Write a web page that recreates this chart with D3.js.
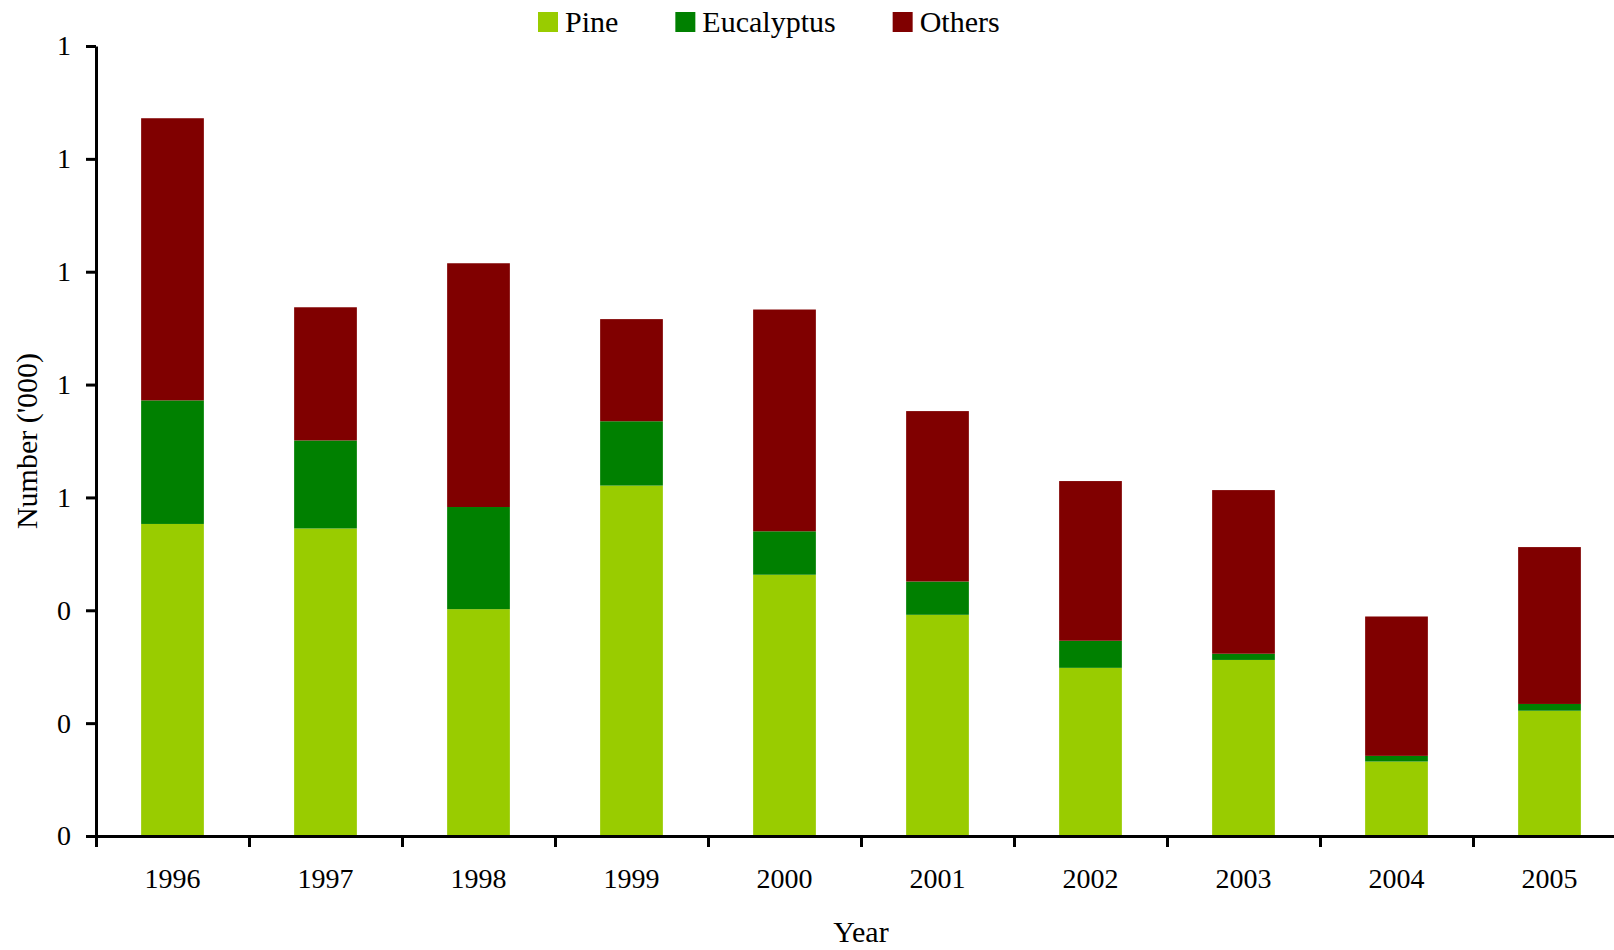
<!DOCTYPE html>
<html>
<head>
<meta charset="utf-8">
<script src="https://cdn.jsdelivr.net/npm/d3@7"></script>
<style>
  body { margin: 0; background: #fff; }
  svg text { font-family: "Liberation Serif", "Times New Roman", serif; fill: #000; }
</style>
</head>
<body>
<div id="chart"></div>
<script>
// data (thousands)
let years = ["1996", "1997", "1998", "1999", "2000", "2001", "2002", "2003", "2004", "2005"];
let pine = [0.553, 0.545, 0.402, 0.621, 0.463, 0.392, 0.298, 0.312, 0.132, 0.222];
let eucalyptus = [0.219, 0.156, 0.181, 0.114, 0.077, 0.059, 0.048, 0.011, 0.010, 0.012];
let others = [0.500, 0.236, 0.432, 0.181, 0.393, 0.302, 0.283, 0.290, 0.247, 0.278];
let seriesNames = ["Pine", "Eucalyptus", "Others"];
let seriesColors = ["#99cc00", "#008000", "#800000"];
let yTicks = [0, 0.2, 0.4, 0.6, 0.8, 1.0, 1.2, 1.4];

let width = 1614, height = 950;
let margin = {top: 46, left: 96, bottom: 114};
let step = 153;
let plotRight = margin.left + step * years.length;
let plotBottom = height - margin.bottom;

let svg = d3.select("#chart")
    .append("svg")
    .attr("width", width)
    .attr("height", height);

let rows = years.map(function(y, i) {
    return {year: y, Pine: pine[i], Eucalyptus: eucalyptus[i], Others: others[i]};
});
let stacked = d3.stack().keys(seriesNames)(rows);

let x = d3.scaleBand().domain(years).range([margin.left, plotRight]).padding(0);
let xEdge = d3.scaleLinear().domain([0, years.length]).range([margin.left, plotRight]);
let y = d3.scaleLinear().domain([0, 1.4]).range([plotBottom, margin.top]);
let color = d3.scaleOrdinal().domain(seriesNames).range(seriesColors);

let barW = x.bandwidth() * 0.41;

// bars
svg.append("g").selectAll("g")
    .data(stacked)
    .enter().append("g")
    .attr("fill", function(d) { return color(d.key); })
    .selectAll("rect")
    .data(function(d) { return d; })
    .enter().append("rect")
    .attr("x", function(d) { return x(d.data.year) + (x.bandwidth() - barW) / 2; })
    .attr("width", barW)
    .attr("y", function(d) { return y(d[1]); })
    .attr("height", function(d) { return y(d[0]) - y(d[1]); });

// y axis
let yAxis = svg.append("g")
    .attr("transform", "translate(" + margin.left + ",0)")
    .call(d3.axisLeft(y).tickValues(yTicks).tickFormat(d3.format(".0f"))
        .tickSizeInner(10).tickSizeOuter(0).tickPadding(15));
yAxis.selectAll("text").style("font-size", "28px");

// x axis: tick marks at category edges, labels in the middle
let xTicks = svg.append("g")
    .attr("transform", "translate(0," + plotBottom + ")")
    .call(d3.axisBottom(xEdge).tickValues(d3.range(years.length + 1)).tickFormat("")
        .tickSizeInner(11).tickSizeOuter(0));

let xLabels = svg.append("g")
    .attr("transform", "translate(0," + plotBottom + ")")
    .call(d3.axisBottom(x).tickSize(0).tickPadding(32));
xLabels.select(".domain").remove();
xLabels.selectAll("text").style("font-size", "28px");

svg.selectAll(".domain, .tick line")
    .attr("stroke", "#000")
    .attr("stroke-width", 3);

// axis titles
svg.append("text")
    .attr("x", (margin.left + plotRight) / 2)
    .attr("y", 942)
    .attr("text-anchor", "middle")
    .style("font-size", "30px")
    .text("Year");

svg.append("text")
    .attr("transform", "translate(37," + (margin.top + plotBottom) / 2 + ") rotate(-90)")
    .attr("text-anchor", "middle")
    .style("font-size", "30px")
    .text("Number ('000)");

// legend
let legend = svg.append("g").attr("transform", "translate(538,12)");
let lx = 0;
seriesNames.forEach(function(name) {
    let item = legend.append("g").attr("transform", "translate(" + lx + ",0)");
    item.append("rect")
        .attr("width", 20).attr("height", 20)
        .attr("fill", color(name));
    let t = item.append("text")
        .attr("x", 27).attr("y", 20)
        .style("font-size", "30px")
        .text(name);
    lx += 27 + t.node().getComputedTextLength() + 57;
});
</script>
</body>
</html>
